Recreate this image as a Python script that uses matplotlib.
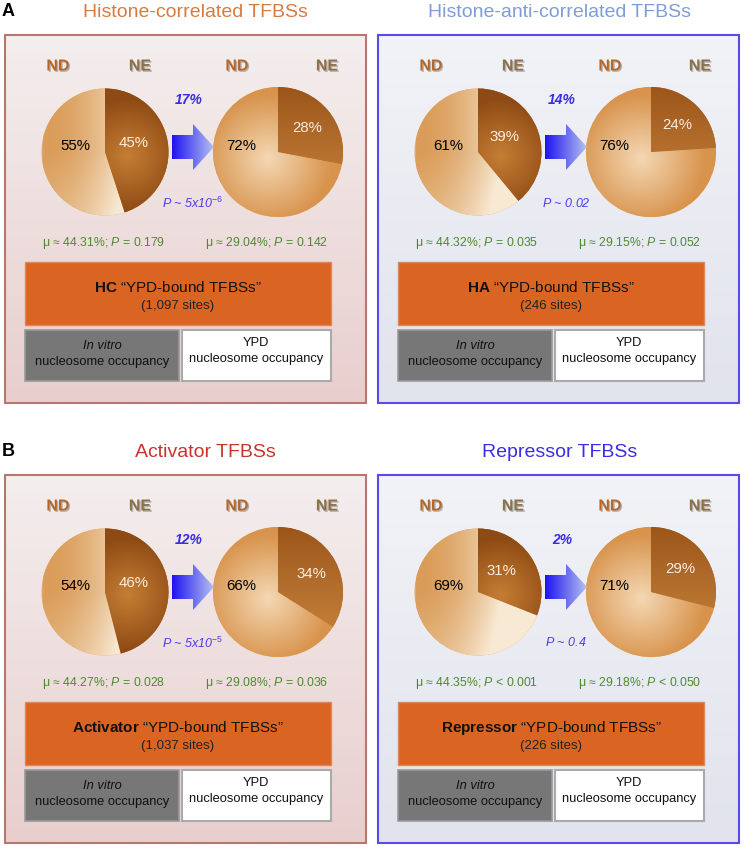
import numpy as np
import matplotlib.pyplot as plt
import matplotlib.patches as mpatches
import matplotlib.patheffects as pe
from matplotlib.colors import to_rgb

plt.rcParams['font.family'] = ['Liberation Sans', 'DejaVu Sans']
plt.rcParams['mathtext.fontset'] = 'custom'
plt.rcParams['mathtext.rm'] = 'Liberation Sans'
plt.rcParams['mathtext.it'] = 'Liberation Sans:italic'
plt.rcParams['mathtext.bf'] = 'Liberation Sans:bold'
plt.rcParams['mathtext.default'] = 'it'

# ---- data, one entry per panel (A left, A right, B left, B right) ----
titles = ["Histone-correlated TFBSs", "Histone-anti-correlated TFBSs",
          "Activator TFBSs", "Repressor TFBSs"]
title_colors = ["#D97A40", "#809CD8", "#C8342C", "#3C2CE4"]
nd_before = [55, 61, 54, 69]
ne_before = [45, 39, 46, 31]
nd_after = [72, 76, 66, 71]
ne_after = [28, 24, 34, 29]
shift = ["17%", "14%", "12%", "2%"]
p_shift = ["5x10$^{-6}$", "0.02", "5x10$^{-5}$", "0.4"]
mu_before = ["44.31", "44.32", "44.27", "44.35"]
p_before = ["= 0.179", "= 0.035", "= 0.028", "< 0.001"]
mu_after = ["29.04", "29.15", "29.08", "29.18"]
p_after = ["= 0.142", "= 0.052", "= 0.036", "< 0.050"]
groups = ["HC", "HA", "Activator", "Repressor"]
sites = ["1,097", "246", "1,037", "226"]
panel_letters = ["A", "B"]

# panel offsets (pixels) relative to the top-left panel
offsets = [(0, 0), (373, 0), (0, 440), (373, 440)]
title_x = [195, 559, 205, 560]

W, H = 747, 850
fig = plt.figure(figsize=(W / 100, H / 100), dpi=100)
ax = fig.add_axes([0, 0, 1, 1])


def gradient(patch, box, c0, c1, tfunc, z=2, n=160):
    # box = (x0, y0, x1, y1) in pixel coords, y downwards
    x0, y0, x1, y1 = box
    X, Y = np.meshgrid(np.linspace(x0, x1, n), np.linspace(y0, y1, n))
    t = np.clip(tfunc(X, Y), 0, 1)[..., None]
    img = np.array(to_rgb(c0)) * (1 - t) + np.array(to_rgb(c1)) * t
    im = ax.imshow(img, extent=(x0, x1, y1, y0), origin='upper',
                   interpolation='bilinear', aspect='auto', zorder=z)
    im.set_clip_path(patch)


def pie(cx, cy, r, ne, nd, after):
    # inverted y axis: start at screen top (-90) and go clockwise on screen
    wedges, _ = ax.pie([ne, nd], center=(cx, cy), radius=r, startangle=-90,
                       counterclock=True, colors=["#A8601F", "#E2A868"],
                       wedgeprops=dict(linewidth=0))
    w_ne, w_nd = wedges
    box = (cx - r - 1, cy - r - 1, cx + r + 1, cy + r + 1)
    if not after:
        gradient(w_nd, box, "#DA9C58", "#F8E9D3",
                 lambda X, Y: ((X - (cx - r)) / (1.4 * r)) ** 1.9
                 + 0.3 * np.clip((Y - cy) / r, 0, 1))
        gradient(w_ne, box, "#C67E34", "#8E4A14",
                 lambda X, Y: np.hypot(X - (cx + 0.35 * r), Y - (cy + 0.05 * r)) / (0.9 * r))
    else:
        gradient(w_nd, box, "#F4D8B4", "#D8934C",
                 lambda X, Y: np.hypot(X - (cx - 0.15 * r), Y - (cy + 0.1 * r)) / (1.0 * r))
        gradient(w_ne, box, "#9C561A", "#C07A36",
                 lambda X, Y: (Y - (cy - r)) / (1.4 * r))
    # percentage labels
    ang = np.deg2rad(ne / 100 * 180)
    dist = 0.58 * r if after else 0.45 * r
    ax.text(cx + dist * np.sin(ang), cy - dist * np.cos(ang) - (0 if after else 5),
            f"{ne}%", color="#FBEDE0", fontsize=10.8, ha='center', va='center', zorder=6)
    ax.text(cx - (37 if after else 30), cy - 6, f"{nd}%", color="black",
            fontsize=10.8, ha='center', va='center', zorder=6)


shadow = [pe.withSimplePatchShadow(offset=(1, -1), shadow_rgbFace='#777777', alpha=0.5)]

for i, (dx, dy) in enumerate(offsets):
    left = (i % 2 == 0)
    # panel title
    ax.text(title_x[i], 12 + dy, titles[i], color=title_colors[i], fontsize=14,
            ha='center', va='center', zorder=6)
    if left:
        ax.text(2, 11 + dy, panel_letters[i // 2], fontsize=13, fontweight='bold',
                ha='left', va='center', zorder=6)

    # panel frame with gradient background
    x0, y0, pw, ph = 5 + dx, 35 + dy, 361, 368
    frame = mpatches.Rectangle((x0, y0), pw, ph, facecolor='none', edgecolor='none', zorder=1)
    ax.add_patch(frame)
    if left:
        gradient(frame, (x0, y0, x0 + pw, y0 + ph), "#F4EEEE", "#E8CFCE",
                 lambda X, Y: (Y - y0) / ph, z=1, n=64)
        ec = "#B8776E"
    else:
        gradient(frame, (x0, y0, x0 + pw, y0 + ph), "#F2F3F7", "#E1E3ED",
                 lambda X, Y: (Y - y0) / ph, z=1, n=64)
        ec = "#5B4BE6"
    ax.add_patch(mpatches.Rectangle((x0, y0), pw, ph, fill=False, edgecolor=ec,
                                    linewidth=1.5, zorder=7))

    # ND / NE headers
    for hx, lab, col in [(58, "ND", "#B5682A"), (140, "NE", "#8C7048"),
                         (237, "ND", "#B5682A"), (327, "NE", "#8C7048")]:
        ax.text(hx + dx, 66 + dy, lab, color=col, fontsize=11.5, fontweight='bold',
                ha='center', va='center', zorder=6, path_effects=shadow)

    # pies
    pie(105 + dx, 152 + dy, 63.5, ne_before[i], nd_before[i], after=False)
    pie(278 + dx, 152 + dy, 65, ne_after[i], nd_after[i], after=True)

    # arrow with blue gradient
    a_pts = np.array([(172, 135), (193, 135), (193, 124), (214, 147),
                      (193, 170), (193, 159), (172, 159)], dtype=float) + (dx, dy)
    arrow = mpatches.Polygon(a_pts, closed=True, facecolor='none', edgecolor='none')
    ax.add_patch(arrow)
    gradient(arrow, (172 + dx, 124 + dy, 214 + dx, 170 + dy), "#1E14F0", "#B4C0F0",
             lambda X, Y: (X - (172 + dx)) / 42.0, z=3, n=64)

    ax.text(189 + dx, 100 + dy, shift[i], color="#3A2BE6", fontsize=10,
            fontweight='bold', fontstyle='italic', ha='center', va='center', zorder=6)
    ax.text(193 + dx, 203 + dy, "$P$ ~ " + p_shift[i], color="#4B3CEB", fontsize=9,
            fontstyle='italic', ha='center', va='center', zorder=6)

    # mean / P annotations
    ax.text(104 + dx, 243 + dy, f"μ ≈ {mu_before[i]}%; $P$ {p_before[i]}",
            color="#4E8A2E", fontsize=8.8, ha='center', va='center', zorder=6)
    ax.text(267 + dx, 243 + dy, f"μ ≈ {mu_after[i]}%; $P$ {p_after[i]}",
            color="#4E8A2E", fontsize=8.8, ha='center', va='center', zorder=6)

    # orange box
    ax.add_patch(mpatches.Rectangle((25 + dx, 262 + dy), 306, 63, facecolor="#DA6421",
                                    edgecolor="#E2875A", linewidth=1, zorder=3))
    ax.text(178 + dx, 288 + dy, r"$\bf{" + groups[i] + r"}$ “YPD-bound TFBSs”",
            fontsize=11, ha='center', va='center', color="#111111", zorder=6)
    ax.text(178 + dx, 306 + dy, f"({sites[i]} sites)", fontsize=9.5,
            ha='center', va='center', color="#222222", zorder=6)

    # occupancy boxes
    ax.add_patch(mpatches.Rectangle((25 + dx, 330 + dy), 154, 51, facecolor="#777777",
                                    edgecolor="#999999", linewidth=1.2, zorder=3))
    ax.add_patch(mpatches.Rectangle((182 + dx, 330 + dy), 149, 51, facecolor="white",
                                    edgecolor="#AAAAAA", linewidth=1.5, zorder=3))
    ax.text(102 + dx, 346 + dy, "In vitro", fontsize=9.3, fontstyle='italic',
            ha='center', va='center', color="#111111", zorder=6)
    ax.text(102 + dx, 362 + dy, "nucleosome occupancy", fontsize=9.3,
            ha='center', va='center', color="#111111", zorder=6)
    ax.text(256 + dx, 343 + dy, "YPD", fontsize=9.3,
            ha='center', va='center', color="#111111", zorder=6)
    ax.text(256 + dx, 359 + dy, "nucleosome occupancy", fontsize=9.3,
            ha='center', va='center', color="#111111", zorder=6)

ax.set_xlim(0, W)
ax.set_ylim(H, 0)
ax.set_aspect('auto')
ax.axis('off')
fig.savefig("out.png", dpi=100, facecolor='white')
